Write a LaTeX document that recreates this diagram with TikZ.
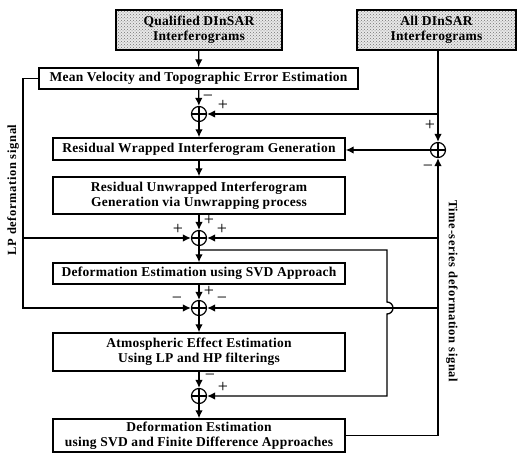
\documentclass[tikz,border=0pt]{standalone}
\usepackage{fontspec}
\setmainfont{Liberation Serif}
\newfontfamily\boxfont[LetterSpace=2]{Liberation Serif}
\newfontfamily\sidefont[LetterSpace=5]{Liberation Serif}
\usetikzlibrary{arrows.meta,patterns}
\begin{document}
\begin{tikzpicture}[x=1pt,y=-1pt,
  box/.style={draw,line width=1.4pt,fill=white,inner sep=0pt,align=center,
    font=\boxfont\bfseries\fontsize{13.5}{15}\selectfont},
  src/.style={draw,line width=1.4pt,inner sep=0pt,align=center,
    preaction={fill=gray!18},pattern=crosshatch dots,pattern color=gray!90!black,
    font=\boxfont\bfseries\fontsize{13.5}{15}\selectfont},
  sum/.style={draw,circle,line width=1.2pt,minimum size=15pt,inner sep=0pt,
    path picture={\draw[line width=1.2pt]
      (path picture bounding box.north) -- (path picture bounding box.south)
      (path picture bounding box.west) -- (path picture bounding box.east);}},
  ln/.style={line width=1.3pt},
  arr/.style={ln,-{Latex[length=8pt,width=7.5pt]}},
  sg/.style={font=\fontsize{18}{18}\selectfont,inner sep=0pt},
  side/.style={inner sep=0pt,font=\sidefont\bfseries\fontsize{12.5}{14}\selectfont}]
\useasboundingbox (0,0) rectangle (517,454);

% boxes
\node[src,minimum width=166pt,minimum height=40pt] (q) at (199,30) {Qualified DInSAR\\Interferograms};
\node[src,minimum width=159pt,minimum height=40pt] (a) at (436.5,30) {All DInSAR\\Interferograms};
\node[box,minimum width=319pt,minimum height=21pt] (m) at (198.5,78.5) {Mean Velocity and Topographic Error Estimation};
\node[box,minimum width=292pt,minimum height=22pt] (rw) at (199,149) {Residual Wrapped Interferogram Generation};
\node[box,minimum width=292pt,minimum height=37pt] (ru) at (199,195.5) {Residual Unwrapped Interferogram\\Generation via Unwrapping process};
\node[box,minimum width=292pt,minimum height=21pt] (ds) at (199,273.5) {Deformation Estimation using SVD Approach};
\node[box,minimum width=292pt,minimum height=38pt] (at) at (199,352) {Atmospheric Effect Estimation\\Using LP and HP filterings};
\node[box,minimum width=292pt,minimum height=33pt] (fd) at (199,435.5) {Deformation Estimation\\using SVD and Finite Difference Approaches};

% summing junctions
\node[sum] (s1) at (199,114) {};
\node[sum] (s2) at (438,150) {};
\node[sum] (s3) at (199,238) {};
\node[sum] (s4) at (199,308) {};
\node[sum] (s5) at (199,396) {};

% helper points
\coordinate (j1) at (438,114);
\coordinate (lpTop) at (23,78.5);
\coordinate (lp3) at (23,238);
\coordinate (lp4) at (23,308);
\coordinate (b3) at (199,250);
\coordinate (hx) at (387,250);
\coordinate (hopA) at (387,302);
\coordinate (hx5) at (387,396);
\coordinate (ts3) at (438,238);
\coordinate (ts4) at (438,308);
\coordinate (tsb) at (438,435.5);

% connectors
\draw[arr] (q) -- (m);
\draw[arr] (m) -- (s1);
\draw[arr] (a.south -| s2) -- (s2);
\draw[arr] (j1) -- (s1);
\draw[arr] (s1) -- (rw);
\draw[arr] (s2) -- (rw.east |- s2);
\draw[arr] (rw) -- (ru);
\draw[arr] (ru) -- (s3);
\draw[arr] (m.west) -- (lpTop) -- (lp4) -- (s4);
\draw[arr] (lp3) -- (s3);
\draw[arr] (s3) -- (ds);
\draw[arr] (b3) -- (hx) -- (hopA) arc[start angle=-90,end angle=90,radius=6] -- (hx5) -- (s5);
\draw[arr] (ds) -- (s4);
\draw[arr] (s4) -- (at);
\draw[arr] (at) -- (s5);
\draw[arr] (s5) -- (fd);
\draw[arr] (fd.east |- tsb) -- (tsb) -- (s2);
\draw[arr] (ts3) -- (s3);
\draw[arr] (ts4) -- (s4);

% signs
\node[sg] (p1a) at (208,98) {−};
\node[sg] (p1b) at (223,105) {+};
\node[sg] (p2a) at (430,125) {+};
\node[sg] (p2b) at (428,168) {−};
\node[sg] (p3a) at (209,220) {+};
\node[sg] (p3b) at (178,229) {+};
\node[sg] (p3c) at (222,229) {+};
\node[sg] (p4a) at (209,291) {+};
\node[sg] (p4b) at (177,300) {−};
\node[sg] (p4c) at (222,300) {−};
\node[sg] (p5a) at (210,377) {−};
\node[sg] (p5b) at (223,387) {+};

% side labels
\node[side,rotate=90] (lpl) at (13,190) {LP deformation signal};
\node[side,rotate=-90] (tsl) at (452,291) {Time-series deformation signal};
\end{tikzpicture}
\end{document}
